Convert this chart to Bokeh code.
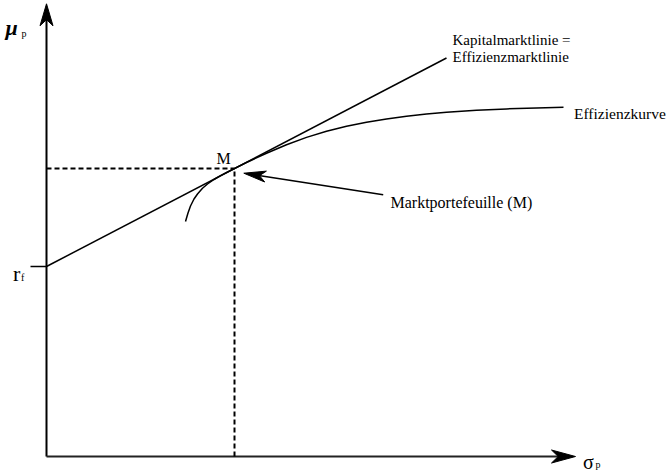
import numpy as np
from bokeh.plotting import figure
from bokeh.models import Range1d
from bokeh.core.properties import value
from bokeh.embed import file_html
from bokeh.resources import INLINE

# ---- data (sigma_p, mu_p in arbitrary units) ----
rf = 19.0
sigma_m = 18.8
mu_m = 28.8
cml_sigma = [0.0, 40.0]
cml_mu = [19.0, 39.85]
frontier_sigma = [13.9, 14.15, 14.4, 14.75, 15.1, 15.6, 16.1, 16.75, 17.4, 18.1,
                  18.8, 20.0, 22.0, 24.0, 26.0, 28.0, 30.0, 32.0, 34.0, 36.0,
                  38.0, 40.0, 43.0, 46.0, 49.0, 51.7]
frontier_mu = [23.5, 24.35, 25.05, 25.75, 26.25, 26.82, 27.25, 27.7, 28.08, 28.45,
               28.8, 29.4, 30.33, 31.17, 31.91, 32.53, 33.03, 33.43, 33.75, 34.02,
               34.24, 34.42, 34.62, 34.76, 34.86, 34.92]
x_axis_end = 52.9
y_axis_end = 45.27

labels_cml = ["Kapitalmarktlinie =", "Effizienzmarktlinie"]
label_frontier = "Effizienzkurve"
label_market = "Marktportefeuille (M)"
label_m = "M"

FONT = value("Liberation Serif")
PX = 0.1  # data units per pixel (both axes)

p = figure(width=669, height=472, output_backend="svg", toolbar_location=None,
           x_range=Range1d(-4.6, 62.3), y_range=Range1d(-1.6, 45.6),
           min_border=0)
p.axis.visible = False
p.grid.visible = False
p.outline_line_color = None
p.background_fill_color = "white"


def head(tail, tip, length, half_w, notch=0.72):
    t = np.array(tail, float) / PX
    h = np.array(tip, float) / PX
    u = (h - t) / np.linalg.norm(h - t)
    n = np.array([-u[1], u[0]])
    back = h - u * length
    left = back + n * half_w
    right = back - n * half_w
    mid = h - u * length * notch
    pts = np.array([h, left, mid, right]) * PX
    return list(pts[:, 0]), list(pts[:, 1])


# axes
p.line([0, 0], [0, y_axis_end - 1.5], line_color="black", line_width=2)
p.line([0, x_axis_end - 1.5], [0, 0], line_color="#222222", line_width=2)
hx, hy = head((0, 0), (0, y_axis_end), 22, 6.5)
p.patch(hx, hy, fill_color="black", line_color="black", line_width=1)
hx, hy = head((0, 0), (x_axis_end, 0), 24, 6.5)
p.patch(hx, hy, fill_color="black", line_color="black", line_width=1)

# rf tick
p.line([-1.6, 0], [rf, rf], line_color="black", line_width=1.5)

# dashed guides
p.line([0, sigma_m], [mu_m, mu_m], line_color="black", line_width=2, line_dash="5 3")
p.line([sigma_m, sigma_m], [0, mu_m], line_color="black", line_width=2, line_dash="5 3")

# capital market line
p.line(cml_sigma, cml_mu, line_color="black", line_width=1.5)
# efficient frontier
p.line(frontier_sigma, frontier_mu, line_color="black", line_width=1.5)

# arrow to M
tail = (33.67, 26.17)
tip = (sigma_m + 0.93, mu_m - 0.47)
p.line([tail[0], tip[0] + 1.5], [tail[1], tip[1] - 0.24], line_color="black", line_width=1.5)
hx, hy = head(tail, tip, 22, 5.5)
p.patch(hx, hy, fill_color="black", line_color="black", line_width=1)

# texts
p.text(x=[40.6, 40.6], y=[41.7, 39.93], text=labels_cml, text_font=FONT,
       text_font_size="15px", text_baseline="alphabetic", text_color="black")
p.text(x=[52.75], y=[34.3], text=[label_frontier], text_font=FONT,
       text_font_size="15.5px", text_baseline="alphabetic", text_color="black")
p.text(x=[34.4], y=[25.37], text=[label_market], text_font=FONT,
       text_font_size="16px", text_baseline="alphabetic", text_color="black")
p.text(x=[17.7], y=[29.8], text=[label_m], text_font=FONT, text_font_size="16px",
       text_align="center", text_baseline="alphabetic", text_color="black")

# axis symbols
p.text(x=[-4.1], y=[42.9], text=["μ"], text_font=FONT, text_font_size="22px",
       text_font_style="bold italic", text_baseline="alphabetic", text_color="black")
p.text(x=[-2.5], y=[42.35], text=["p"], text_font=FONT, text_font_size="10px",
       text_baseline="alphabetic", text_color="black")
p.text(x=[53.65], y=[-0.55], text=["σ"], text_font=FONT, text_font_size="20px",
       text_baseline="alphabetic", text_color="black")
p.text(x=[54.9], y=[-0.8], text=["p"], text_font=FONT, text_font_size="10px",
       text_baseline="alphabetic", text_color="black")
p.text(x=[-3.35], y=[18.3], text=["r"], text_font=FONT, text_font_size="22px",
       text_baseline="alphabetic", text_color="black")
p.text(x=[-2.55], y=[17.9], text=["f"], text_font=FONT, text_font_size="10px",
       text_baseline="alphabetic", text_color="black")

open("out.html", "w").write(file_html(p, INLINE))
